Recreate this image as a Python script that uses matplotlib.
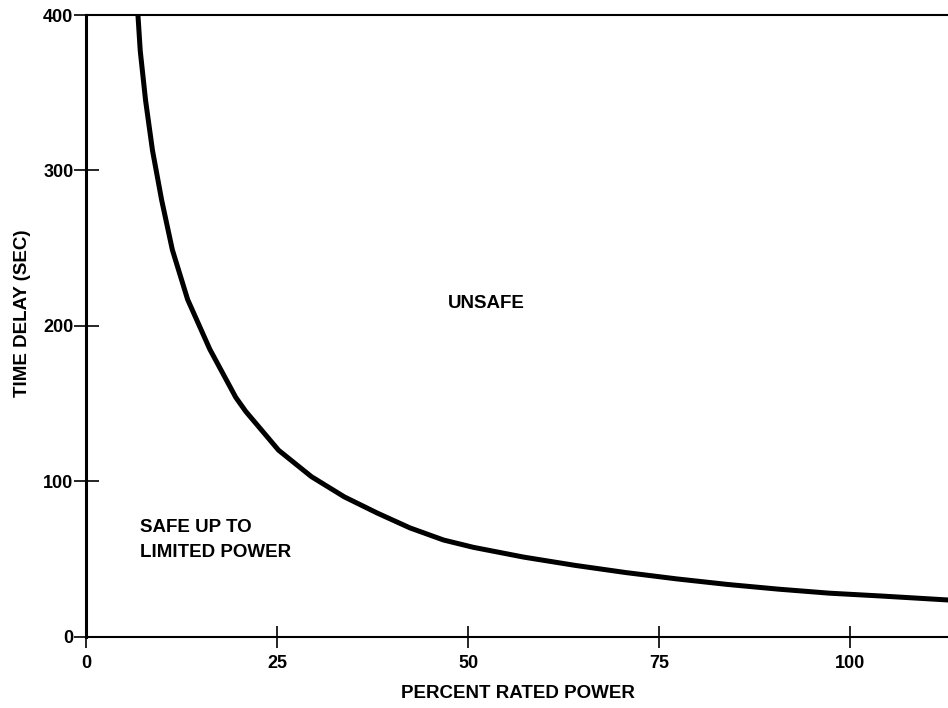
import numpy as np
import matplotlib
matplotlib.use('Agg')
import matplotlib.pyplot as plt

plt.rcParams['font.family'] = ['Liberation Sans', 'DejaVu Sans']
plt.rcParams['font.weight'] = 'bold'

# curve: percent rated power vs allowed time delay
power = [6.8, 7.1, 7.8, 8.7, 9.9, 11.3, 13.3, 16.2, 19.6, 20.9, 25.2, 29.5, 33.8,
         38.1, 42.4, 46.8, 50.7, 57.3, 64.0, 70.6, 77.3, 84.0, 90.6, 97.3, 104.0, 112.9]
delay = [400, 377, 345, 313, 281, 249, 217, 185, 154, 145, 120, 103, 90,
         79.6, 70.0, 62.2, 57.5, 51.2, 45.9, 41.3, 37.2, 33.6, 30.6, 28.0, 26.2, 23.6]

x_ticks = [0, 25, 50, 75, 100]
y_ticks = [0, 100, 200, 300, 400]

fig = plt.figure(figsize=(9.48, 7.08), dpi=100)
ax = fig.add_axes([0.0907, 0.1007, 0.9093, 0.878])

ax.plot(power, delay, color='black', lw=3.6, solid_capstyle='butt', solid_joinstyle='round')

ax.set_xlim(0, 112.8)
ax.set_ylim(0, 400)
ax.set_xticks(x_ticks)
ax.set_yticks(y_ticks)

ax.spines['right'].set_visible(False)
ax.spines['left'].set_linewidth(2.2)
ax.spines['bottom'].set_linewidth(1.5)
ax.spines['top'].set_linewidth(1.5)

ax.tick_params(axis='y', direction='inout', length=18, width=1.2, labelsize=13, pad=0)
ax.tick_params(axis='x', direction='inout', length=16, width=1.2, labelsize=13, pad=5)

ax.set_xlabel('PERCENT RATED POWER', fontsize=13.5, fontweight='bold', va='top')
ax.xaxis.set_label_coords(0.501, -0.078)
ax.set_ylabel('TIME DELAY (SEC)', fontsize=13.5, fontweight='bold')
ax.yaxis.set_label_coords(-0.064, 0.52)

ax.text(52.4, 214.6, 'UNSAFE', fontsize=13.5, fontweight='bold', ha='center', va='center')
ax.text(7.07, 67.3, 'SAFE UP TO', fontsize=13.5, fontweight='bold', ha='left', va='baseline')
ax.text(7.07, 51.3, 'LIMITED POWER', fontsize=13.5, fontweight='bold', ha='left', va='baseline')

fig.savefig('out.png', dpi=100)
